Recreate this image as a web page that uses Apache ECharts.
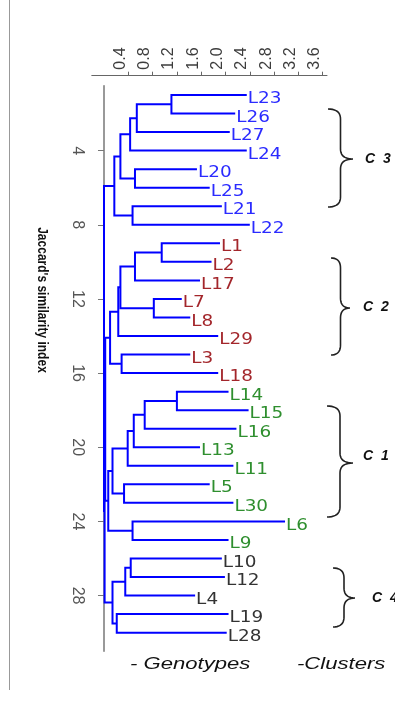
<!DOCTYPE html>
<html>
<head>
<meta charset="utf-8">
<script src="https://cdn.jsdelivr.net/npm/echarts@6/dist/echarts.min.js"></script>
<style>html,body{margin:0;padding:0;background:#fff;}#c{width:395px;height:703px;}</style>
</head>
<body>
<div id="c"></div>
<script>
// ---- data ----
const leafNames = ['L23','L26','L27','L24','L20','L25','L21','L22',
  'L1','L2','L17','L7','L8','L29','L3','L18',
  'L14','L15','L16','L13','L11','L5','L30','L6','L9',
  'L10','L12','L4','L19','L28'];
const leafHeights = [2.35,2.16,2.07,2.35,1.53,1.74,1.94,2.40,
  1.91,1.77,1.58,1.28,1.42,1.88,1.42,1.88,
  2.05,2.38,2.18,1.58,2.13,1.74,2.13,2.98,2.05,
  1.94,1.99,1.50,2.05,2.02];
const leafCluster = ['C3','C3','C3','C3','C3','C3','C3','C3',
  'C2','C2','C2','C2','C2','C2','C2','C2',
  'C1','C1','C1','C1','C1','C1','C1','C1','C1',
  'C4','C4','C4','C4','C4'];
// merges: [childA, childB, height, newName]
const merges = [
  ['L23','L26',1.11,'m1'],['m1','L27',0.54,'m2'],['m2','L24',0.43,'m3'],
  ['L20','L25',0.51,'m4'],['m3','m4',0.27,'m5'],['L21','L22',0.47,'m6'],
  ['m5','m6',0.17,'C3'],
  ['L1','L2',0.95,'m7'],['m7','L17',0.51,'m8'],['L7','L8',0.82,'m9'],
  ['m8','m9',0.27,'m10'],['m10','L29',0.235,'m11'],['L3','L18',0.29,'m12'],
  ['m11','m12',0.10,'C2'],
  ['L14','L15',1.20,'m13'],['m13','L16',0.67,'m14'],['m14','L13',0.49,'m15'],
  ['m15','L11',0.39,'m16'],['L5','L30',0.33,'m17'],['m16','m17',0.14,'m18'],
  ['L6','L9',0.47,'m19'],['m18','m19',0.07,'C1'],
  ['L10','L12',0.44,'m20'],['m20','L4',0.35,'m21'],['L19','L28',0.21,'m22'],
  ['m21','m22',0.14,'C4'],
  ['C2','C1',0.02,'r1'],['r1','C4',0.01,'r2'],['C3','r2',0.0,'root']
];
const xTicks = [0.4,0.8,1.2,1.6,2.0,2.4,2.8,3.2,3.6];
const yTicks = [4,8,12,16,20,24,28];
const clusterColors = {C3:'#2b2bff', C2:'#a3262b', C1:'#2f8f2f', C4:'#333333'};
const clusterLabels = ['C  3','C  2','C  1','C  4'];

// ---- build tree segments ----
const pos = {};
leafNames.forEach((n,i)=>{ pos[n] = {x: leafHeights[i], y: i+1}; });
const segData = [];
merges.forEach(m=>{
  const a = pos[m[0]], b = pos[m[1]];
  segData.push([a.x, a.y, b.x, b.y, m[2]]);
  pos[m[3]] = {x: m[2], y: (a.y + b.y)/2};
});
const leafData = leafNames.map((n,i)=>[leafHeights[i], i+1]);

function braceLine(x0, y0, y1, ym, xt){
  const xm = x0 + (xt - x0)*0.5, r = 10, pts = [];
  function quad(p0, c, p1){
    for(let t=0;t<=1.0001;t+=0.1){
      const u=1-t;
      pts.push([u*u*p0[0]+2*u*t*c[0]+t*t*p1[0], u*u*p0[1]+2*u*t*c[1]+t*t*p1[1]]);
    }
  }
  quad([x0,y0],[xm,y0],[xm,y0+r]);
  quad([xm,ym-r],[xm,ym],[xt,ym]);
  quad([xt,ym],[xm,ym],[xm,ym+r]);
  quad([xm,y1-r],[xm,y1],[x0,y1]);
  return {type:'polyline', shape:{points:pts}, style:{stroke:'#222', lineWidth:1.6, fill:null}};
}
const braces = [[328,109,207,159,353],[331,258,355,308,350],[327,406,517,463,353],[333,568,627,598,355]];
const clusterLabelPos = [[365,159],[363,307],[363,456],[372,598]];

const chart = echarts.init(document.getElementById('c'));
const graphics = [
  {type:'line', shape:{x1:9.5,y1:0,x2:9.5,y2:690}, style:{stroke:'#999', lineWidth:1}},
  {type:'text', x:42, y:300, rotation:-Math.PI/2, scaleY:1.25,
   style:{text:"Jaccard's similarity index", font:'bold 12px "Liberation Sans"', fill:'#111', align:'center', verticalAlign:'middle'}},
  {type:'text', x:130, y:665, scaleX:1.38,
   style:{text:'- Genotypes', font:'italic 16px "Liberation Sans"', fill:'#111', align:'left', verticalAlign:'middle'}},
  {type:'text', x:297, y:665, scaleX:1.38,
   style:{text:'-Clusters', font:'italic 16px "Liberation Sans"', fill:'#111', align:'left', verticalAlign:'middle'}}
];
braces.forEach(b=>graphics.push(braceLine.apply(null,b)));
clusterLabels.forEach((t,i)=>graphics.push({type:'text', x:clusterLabelPos[i][0], y:clusterLabelPos[i][1],
  style:{text:t, font:'italic bold 14px "Liberation Sans"', fill:'#111', align:'left', verticalAlign:'middle'}}));

chart.setOption({
  animation:false,
  backgroundColor:'#fff',
  grid:{left:91.85, top:85.7, width:235.1, height:565.5, containLabel:false},
  xAxis:{
    type:'value', position:'top', min:-0.2, max:3.67, offset:10,
    axisLine:{show:true, onZero:false, lineStyle:{color:'#666', width:1.2}},
    axisTick:{show:true, customValues:xTicks, length:4, lineStyle:{color:'#666'}},
    axisLabel:{show:true, customValues:xTicks, rotate:-90, margin:6, fontSize:16,
      verticalAlign:'bottom',
      fontFamily:'Liberation Sans', color:'#3c3c3c', formatter:v=>Number(v).toFixed(1)},
    splitLine:{show:false}
  },
  yAxis:{
    type:'value', inverse:true, min:0.5, max:31,
    axisLine:{show:true, onZero:true, lineStyle:{color:'#777', width:1.5}},
    axisTick:{show:true, customValues:yTicks, length:6, lineStyle:{color:'#777'}},
    axisLabel:{show:true, customValues:yTicks, rotate:-90, margin:6, fontSize:16,
      fontFamily:'Liberation Sans', color:'#555'},
    splitLine:{show:false}
  },
  series:[
    {
      type:'custom', data:segData, encode:{x:[0,2,4], y:[1,3]}, clip:false, silent:true,
      renderItem:function(params, api){
        const ax=api.value(0), ay=api.value(1), bx=api.value(2), by=api.value(3), nx=api.value(4);
        const p1=api.coord([ax,ay]), p2=api.coord([nx,ay]), p3=api.coord([nx,by]), p4=api.coord([bx,by]);
        return {type:'polyline', shape:{points:[p1,p2,p3,p4]}, style:{stroke:'#0000ff', lineWidth:2, fill:null}};
      }
    },
    {
      type:'custom', data:leafData, encode:{x:0, y:1}, clip:false, silent:true,
      renderItem:function(params, api){
        const i=params.dataIndex;
        const p=api.coord([api.value(0), api.value(1)]);
        return {type:'text', x:p[0]+1, y:p[1]+4, scaleX:1.15,
          style:{text:leafNames[i], fill:clusterColors[leafCluster[i]], font:'16px "DejaVu Sans"', align:'left', verticalAlign:'middle'}};
      }
    }
  ],
  graphic:graphics
});
</script>
</body>
</html>
